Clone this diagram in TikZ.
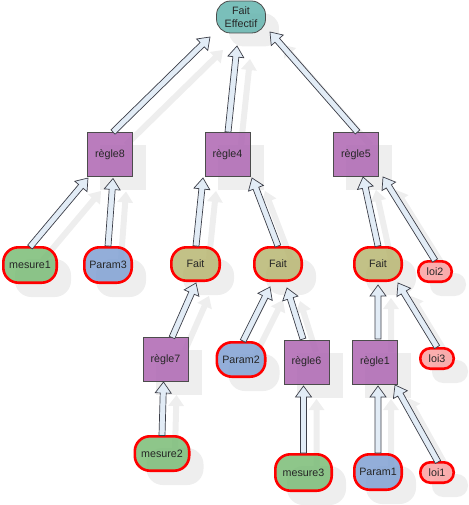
\documentclass[tikz,border=0pt]{standalone}
\usepackage{fontspec}
\setmainfont{Liberation Sans}
\usetikzlibrary{calc}
\pgfdeclarelayer{bg}
\pgfsetlayers{bg,main}
\definecolor{feC}{RGB}{104,182,176}
\definecolor{regleC}{RGB}{176,106,180}
\definecolor{faitC}{RGB}{186,184,118}
\definecolor{mesC}{RGB}{126,190,122}
\definecolor{parC}{RGB}{132,163,212}
\definecolor{loiC}{RGB}{250,163,163}
\definecolor{arrF}{RGB}{226,236,246}
\definecolor{arrD}{RGB}{60,62,72}
\definecolor{shadowC}{RGB}{238,238,238}
\tikzset{
  base/.style={inner sep=0pt, text=black!85, fill opacity=0.88, text opacity=1},
  regle/.style={base, rectangle, draw=black!70, line width=0.8pt, fill=regleC,
     minimum width=45pt, minimum height=44pt},
  oval/.style={base, rectangle, rounded corners=15pt, draw=red, line width=2.6pt},
  smalloval/.style={base, rectangle, rounded corners=10pt, draw=red, line width=2.6pt,
     fill=loiC, minimum width=33.4pt, minimum height=20.4pt},
  fenode/.style={base, rectangle, rounded corners=14pt, draw=black!70, line width=0.8pt,
     fill=feC, minimum width=49pt, minimum height=32pt, align=center,
     font=\fontsize{10.7}{13.5}\selectfont},
  shadownode/.style={fill=shadowC, draw=shadowC, fill opacity=1},
  blockarr/.style={fill=arrF, draw=arrD, line width=0.7pt, line join=miter}
}
\newcommand\nd[4]{%
  \node[#2] (#1) at (#3) {#4};
  \begin{pgfonlayer}{bg}
    \node[#2, shadownode] at ($(#1)+(13,13)$) {};
  \end{pgfonlayer}}
\newcommand\barrow[2]{%
  \coordinate (ba1) at #1;
  \coordinate (ba2) at #2;
  \coordinate (bah) at ($(ba2)!11pt!(ba1)$);
  \coordinate (sb1) at ($(ba1)+(13,13)$);
  \coordinate (sb2) at ($(ba2)+(13,13)$);
  \coordinate (sbh) at ($(bah)+(13,13)$);
  \begin{pgfonlayer}{bg}
    \fill[shadowC] ($(sb1)!3pt!90:(sb2)$) -- ($(sbh)!3pt!90:(sb2)$) -- ($(sbh)!8pt!90:(sb2)$) -- (sb2)
      -- ($(sbh)!8pt!-90:(sb2)$) -- ($(sbh)!3pt!-90:(sb2)$) -- ($(sb1)!3pt!-90:(sb2)$) -- cycle;
  \end{pgfonlayer}
  \draw[blockarr] ($(ba1)!3pt!90:(ba2)$) -- ($(bah)!3pt!90:(ba2)$) -- ($(bah)!8pt!90:(ba2)$) -- (ba2)
      -- ($(bah)!8pt!-90:(ba2)$) -- ($(bah)!3pt!-90:(ba2)$) -- ($(ba1)!3pt!-90:(ba2)$) -- cycle;}
\begin{document}
\begin{tikzpicture}[x=1pt,y=-1pt,font=\fontsize{10.7}{12.5}\selectfont]
\useasboundingbox (0,0) rectangle (468,505);
% nodes
\nd{fe}{fenode}{241,17}{Fait\\Effectif}
\nd{r8}{regle}{110,154.5}{règle8}
\nd{r4}{regle}{227.5,154.5}{règle4}
\nd{r5}{regle}{356,154.5}{règle5}
\nd{m1}{oval, fill=mesC, minimum width=53.4pt, minimum height=35.4pt}{30,265}{mesure1}
\nd{p3}{oval, fill=parC, minimum width=47.4pt, minimum height=35.4pt}{108,265}{Param3}
\nd{fL}{oval, fill=faitC, minimum width=48.4pt, minimum height=33.4pt}{195.5,264}{Fait}
\nd{fR}{oval, fill=faitC, minimum width=47.4pt, minimum height=33.4pt}{278,264}{Fait}
\nd{fRR}{oval, fill=faitC, minimum width=47.4pt, minimum height=33.4pt}{378,264}{Fait}
\nd{loi2}{smalloval}{435,271.5}{loi2}
\nd{r7}{regle}{165.5,359.5}{règle7}
\nd{p2}{oval, fill=parC, minimum width=48.4pt, minimum height=34.4pt}{241,359.5}{Param2}
\nd{r6}{regle}{306.5,362}{règle6}
\nd{r1}{regle}{375,362}{règle1}
\nd{loi3}{smalloval}{437,358.5}{loi3}
\nd{m2}{oval, fill=mesC, minimum width=54.4pt, minimum height=34.4pt}{162,453.5}{mesure2}
\nd{m3}{oval, fill=mesC, minimum width=56.4pt, minimum height=36.4pt}{303.5,472.5}{mesure3}
\nd{p1}{oval, fill=parC, minimum width=47.4pt, minimum height=35.4pt}{378,472}{Param1}
\nd{loi1}{smalloval}{437,472.5}{loi1}
% arrows
\barrow{($(r8)+(3,-22.5)$)}{($(fe)+(-31,20)$)}
\barrow{($(r4)+(0.5,-22.5)$)}{($(fe)+(-4,29)$)}
\barrow{($(r5)+(1.5,-22.5)$)}{($(fe)+(29,15)$)}
\barrow{($(m1)+(0,-18)$)}{($(r8)+(-22,23.5)$)}
\barrow{($(p3)+(0,-19)$)}{($(r8)+(3,24)$)}
\barrow{($(fL)+(0.5,-18)$)}{($(r4)+(-24.5,23.5)$)}
\barrow{($(fR)+(0,-18)$)}{($(r4)+(24.5,23.5)$)}
\barrow{($(fRR)+(0,-18)$)}{($(r5)+(7,22.5)$)}
\barrow{($(loi2)+(0,-11)$)}{($(r5)+(27,22.5)$)}
\barrow{($(r7)+(6.5,-22)$)}{($(fL)+(0.5,19)$)}
\barrow{($(p2)+(2,-18.5)$)}{($(fR)+(-8,23)$)}
\barrow{($(r6)+(-3.5,-23)$)}{($(fR)+(9,24)$)}
\barrow{($(m2)+(0,-18)$)}{($(r7)+(-2,22.5)$)}
\barrow{($(m3)+(0,-19.5)$)}{($(r6)+(-3,24)$)}
\barrow{($(r1)+(3,-23)$)}{($(fRR)+(0,21)$)}
\barrow{($(loi3)+(0,-11.5)$)}{($(fRR)+(20,19)$)}
\barrow{($(p1)+(0,-19)$)}{($(r1)+(3,24)$)}
\barrow{($(loi1)+(1,-10.5)$)}{($(r1)+(20,23)$)}
\end{tikzpicture}
\end{document}
